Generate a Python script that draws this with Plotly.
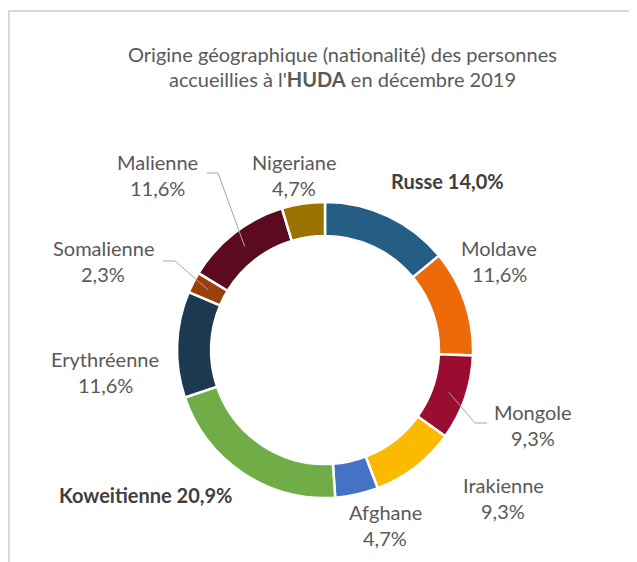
import math
import plotly.graph_objects as go

# ---------------- data ----------------
categories = ["Russe", "Moldave", "Mongole", "Irakienne", "Afghane",
              "Koweitienne", "Erythréenne", "Somalienne", "Malienne", "Nigeriane"]
values = [14.0, 11.6, 9.3, 9.3, 4.7, 20.9, 11.6, 2.3, 11.6, 4.7]
pct_labels = ["14,0%", "11,6%", "9,3%", "9,3%", "4,7%",
              "20,9%", "11,6%", "2,3%", "11,6%", "4,7%"]
colors = ["#255E85", "#EC6A0A", "#9A0D31", "#FBBA00", "#4472C4",
          "#70AD47", "#1B3A52", "#9B3F0B", "#5C0A20", "#9C7300"]
bold_labels = ["Russe", "Koweitienne"]

# ---------------- layout ----------------
W, H = 637, 562
OFF = 8  # page body margin
CX, CY, R_OUT, HOLE = 325, 350, 148, 0.77
FONT = "Lato"
TXT = "#595959"
BOLD_TXT = "#404040"
LSIZE = 20
TSIZE = 20

# label centres in window pixels (first line)
label_pos = {
    "Russe": (447, 181), "Moldave": (499, 248), "Mongole": (533, 412),
    "Irakienne": (503, 485), "Afghane": (385, 512), "Koweitienne": (145, 495),
    "Erythréenne": (105, 359), "Somalienne": (103, 248), "Malienne": (157, 162),
    "Nigeriane": (294, 162),
}
LINE_GAP = 26
# leader lines: start point and elbow near label (window pixels)
leaders = {
    "Malienne": [(207, 173), (218, 173)],
    "Somalienne": [(163, 261), (175, 261)],
    "Mongole": [(487, 423), (475, 423)],
}


def px(x):
    return (x - OFF) / W


def py(y):
    return 1 - (y - OFF) / H


fig = go.Figure(go.Pie(
    labels=categories, values=values, sort=False, direction="clockwise",
    rotation=0, hole=HOLE, textinfo="none", hoverinfo="label+percent",
    marker=dict(colors=colors, line=dict(color="white", width=2.5)),
    domain=dict(x=[px(CX - R_OUT), px(CX + R_OUT)],
                y=[py(CY + R_OUT), py(CY - R_OUT)]),
    showlegend=False,
))

annotations = []
for name, pct in zip(categories, pct_labels):
    x, y = label_pos[name]
    if name in bold_labels:
        annotations.append(dict(text=f"<b>{name} {pct}</b>", x=px(x), y=py(y),
                                font=dict(size=LSIZE, color=BOLD_TXT, family=FONT)))
    else:
        annotations.append(dict(text=name, x=px(x), y=py(y),
                                font=dict(size=LSIZE, color=TXT, family=FONT)))
        annotations.append(dict(text=pct, x=px(x), y=py(y + LINE_GAP),
                                font=dict(size=LSIZE, color=TXT, family=FONT)))

# title
annotations.append(dict(text="Origine géographique (nationalité) des personnes",
                        x=px(342), y=py(54), font=dict(size=TSIZE, color=TXT, family=FONT)))
annotations.append(dict(text="accueillies à l'<b>HUDA</b> en décembre 2019",
                        x=px(342), y=py(79), font=dict(size=TSIZE, color=TXT, family=FONT)))
for a in annotations:
    a.update(xref="paper", yref="paper", xanchor="center", yanchor="middle",
             showarrow=False)

shapes = []
# cumulative mid-angles for leader ends
total = sum(values)
cum = 0
r_mid = R_OUT * (1 + HOLE) / 2
mid_pts = {}
for name, v in zip(categories, values):
    a = 2 * math.pi * (cum + v / 2) / total
    mid_pts[name] = (CX + r_mid * math.sin(a), CY - r_mid * math.cos(a))
    cum += v
for name, pts in leaders.items():
    pts = pts + [mid_pts[name]]
    path = "M " + " L ".join(f"{px(x)},{py(y)}" for x, y in pts)
    shapes.append(dict(type="path", path=path, xref="paper", yref="paper",
                       line=dict(color="#A6A6A6", width=1)))
# chart-area border (left and top)
shapes.append(dict(type="path", xref="paper", yref="paper",
                   path=f"M {px(9)},{py(600)} L {px(9)},{py(11)} L {px(700)},{py(11)}",
                   line=dict(color="#D9D9D9", width=2)))

fig.update_layout(width=W, height=H, margin=dict(l=0, r=0, t=0, b=0),
                  paper_bgcolor="white", plot_bgcolor="white",
                  annotations=annotations, shapes=shapes,
                  font=dict(family=FONT))
fig.write_html("out.html")
